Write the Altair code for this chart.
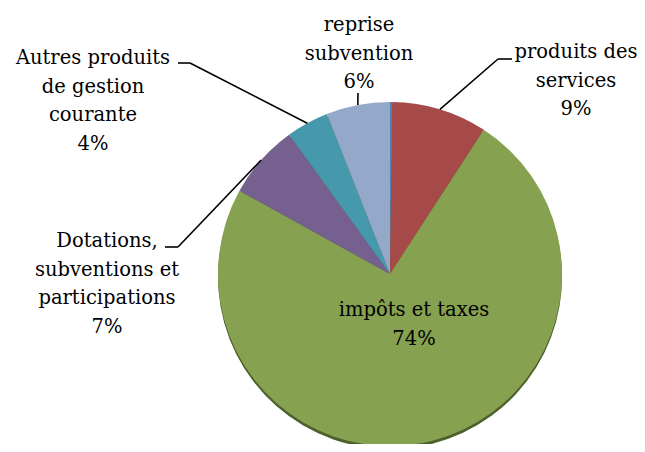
import altair as alt
import pandas as pd
import numpy as np

# ---- data ----
categories = [
    "atténuations de charges",
    "produits des services",
    "impôts et taxes",
    "Dotations, subventions et participations",
    "Autres produits de gestion courante",
    "reprise subvention",
]
values = [0.2, 9, 74, 7, 4, 6]
label_texts = [
    "",
    "produits des\nservices\n9%",
    "impôts et taxes\n74%",
    "Dotations,\nsubventions et\nparticipations\n7%",
    "Autres produits\nde gestion\ncourante\n4%",
    "reprise\nsubvention\n6%",
]
colors = ["#4F81BD", "#A64A49", "#86A150", "#76608F", "#4699AD", "#94A8C9"]

# ---- layout (page px, minus 8px margin) ----
M = 8
W, H = 645 - 2 * M, 452 - 2 * M
CX, CY, R = 390 - M, 274 - M, 172
FONT = "DejaVu Serif"

# position of the first line of each label
label_pos = {
    "produits des services": (576, 52),
    "impôts et taxes": (414, 310),
    "Dotations, subventions et participations": (107, 241),
    "Autres produits de gestion courante": (93, 58),
    "reprise subvention": (359, 25),
}
elbows = {
    "produits des services": [(498, 59), (512, 59)],
    "Dotations, subventions et participations": [(178, 247), (165, 247)],
    "Autres produits de gestion courante": [(190, 63), (178, 63)],
    "reprise subvention": [(358, 93)],
}

df = pd.DataFrame({"cat": categories, "value": values, "idx": range(len(values))})

# edge points at the middle of each slice
tot = float(np.sum(values))
cum = np.cumsum(values)
mid = (cum - np.array(values) / 2) / tot * 2 * np.pi
edge = {c: (CX + R * np.sin(a), CY - R * np.cos(a)) for c, a in zip(categories, mid)}

segs = []
for c, pts in elbows.items():
    chain = [edge[c]] + [(x - M, y - M) for x, y in pts]
    for (x1, y1), (x2, y2) in zip(chain[:-1], chain[1:]):
        segs.append({"x": x1, "y": y1, "x2": x2, "y2": y2})
seg_df = pd.DataFrame(segs)

lab_df = pd.DataFrame(
    [
        {"x": label_pos[c][0] - M, "y": label_pos[c][1] - M, "t": t}
        for c, t in zip(categories, label_texts)
        if c in label_pos
    ]
)

base = alt.Chart(df)
theta = alt.Theta("value:Q", stack=True)
order = alt.Order("idx:Q")

shadow = base.mark_arc(radius=R, color="#4D5F2B", strokeWidth=0).encode(
    theta=theta, order=order, x=alt.value(CX), y=alt.value(CY + 3)
)
pie = base.mark_arc(radius=R, strokeWidth=0).encode(
    theta=theta,
    order=order,
    color=alt.Color("cat:N", scale=alt.Scale(domain=categories, range=colors), legend=None),
    x=alt.value(CX),
    y=alt.value(CY),
)

rules = alt.Chart(seg_df).mark_rule(color="black", strokeWidth=1.6).encode(
    x=alt.X("x:Q", scale=None),
    y=alt.Y("y:Q", scale=None),
    x2="x2:Q",
    y2="y2:Q",
)

labels = alt.Chart(lab_df).mark_text(
    font=FONT, fontSize=19.5, lineBreak="\n", lineHeight=28.5,
    align="center", baseline="middle", color="black",
).encode(
    x=alt.X("x:Q", scale=None),
    y=alt.Y("y:Q", scale=None),
    text="t:N",
)

chart = (
    alt.layer(shadow, pie, rules, labels)
    .properties(width=W, height=H, padding=0, autosize="none")
    .configure_view(strokeWidth=0)
)

chart.save("out.html", embed_options={"renderer": "svg", "actions": False})
